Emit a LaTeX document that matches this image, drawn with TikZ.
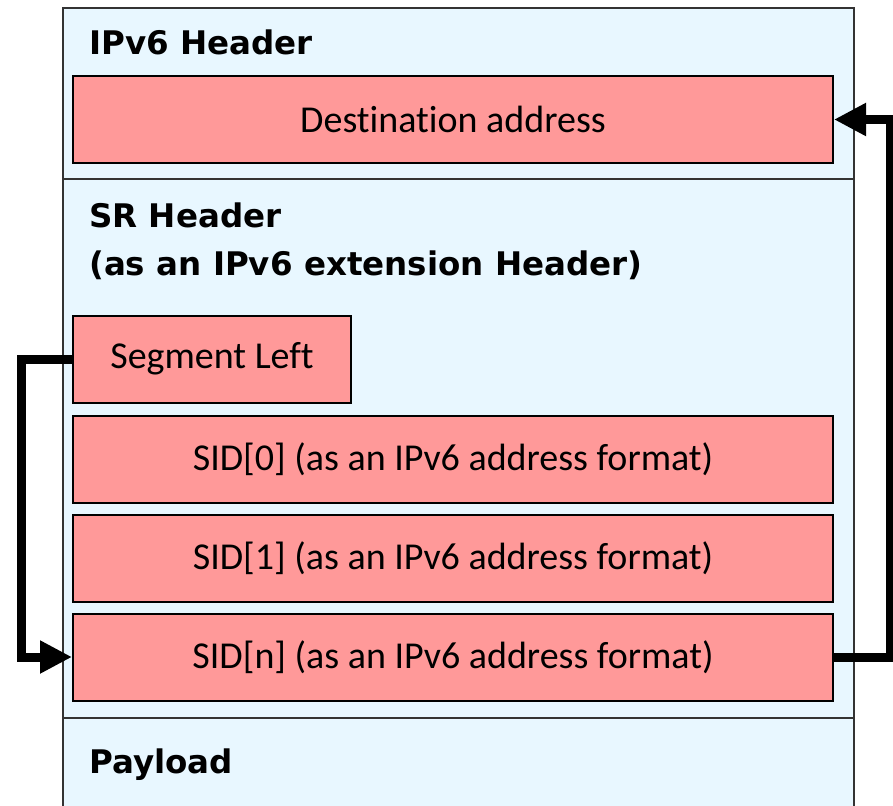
\documentclass[tikz,border=0pt]{standalone}
\usepackage{fontspec}
\setmainfont{Carlito}[Ligatures={NoCommon,NoRequired,NoContextual}]
\newfontfamily\hdrfont{DejaVu Sans}
\usepackage{xcolor}
\usetikzlibrary{calc,arrows.meta}
\definecolor{pktblue}{HTML}{E8F7FF}
\definecolor{fieldpink}{HTML}{FF9999}
\definecolor{framegray}{HTML}{333333}

\begin{document}
\begin{tikzpicture}[x=1pt,y=-1pt,
    field/.style={draw=black, fill=fieldpink, line width=2pt, minimum height=87pt, inner sep=0pt, font=\fontsize{38}{40}\selectfont},
    hdr/.style={anchor=base west, inner sep=0pt, font=\hdrfont\bfseries\fontsize{32.5}{38}\selectfont},
    conn/.style={line width=9pt, -{Triangle[length=32pt,width=31pt]}}]
            \clip (0,0) rectangle (893,805);
            \filldraw[fill=pktblue, draw=framegray, line width=1.5pt] (63,8) rectangle (854,840);
            \draw[framegray, line width=1.5pt] (63,179) -- (854,179);
            \draw[framegray, line width=1.5pt] (63,718) -- (854,718);
            \node[hdr] (ipv6hdr) at (89,55) {IPv6 Header};
            \node[hdr] (srhdr) at (89,227) {SR Header};
            \node[hdr] (srext) at (89,275) {(as an IPv6 extension Header)};
            \node[hdr] (payload) at (89,773) {Payload};
            \node[field, minimum width=760pt] (dest) at (453,119.5) {Destination address};
            \node[field, minimum width=278pt] (segleft) at (212,359) {Segment Left};
            \node[field, minimum width=760pt] (sid0) at (453,459) {SID[0] (as an IPv6 address format)};
            \node[field, minimum width=760pt] (sid1) at (453,558) {SID[1] (as an IPv6 address format)};
            \node[field, minimum width=760pt] (sidn) at (453,657) {SID[n] (as an IPv6 address format)};
            \draw[conn] (segleft.west) -- ++(-51,0) |- (sidn.west);
            \draw[conn] (sidn.east) -- ++(56,0) |- (dest.east);
        \end{tikzpicture}
\end{document}
